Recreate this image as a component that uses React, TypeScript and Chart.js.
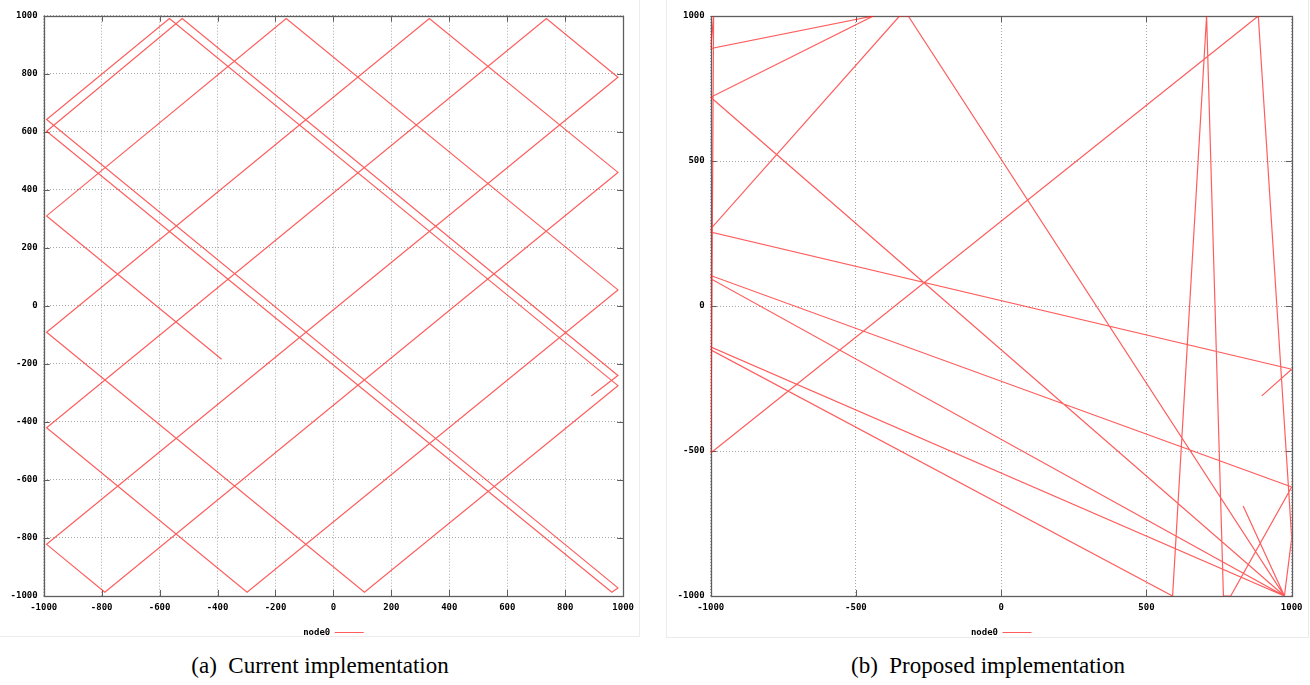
import React, { useEffect, useRef } from 'react';
import { Chart, registerables } from 'chart.js';

Chart.register(...registerables);

// ---- data ----
const seriesLabel = 'node0';

// (a) current implementation: trajectory of node0
const leftX = [-386, -990, -163, 982, -298, -990, 735, 982, -990, -789, 982, 331, -990, 107, 982, -566, -990, 982, 961, -990, -522, 982, 890];
const leftY = [-184, 310, 990, 55, -987, -420, 990, 788, -822, -987, 460, 990, -91, -987, -275, 990, 642, -972, -987, 602, 990, -240, -311];

// (b) proposed implementation: trajectory of node0
const rightX = [833, 975, -1000, -1000, 590, 707, 765, 790, 1000, -1000, -1000, 975, 1000, 885, -1000, -998, -990, -1000, -440, -1000, 975, -320, -350, -1000, -1000, 1000, 897];
const rightY = [-690, -1000, -141, -151, -1000, 1000, -1000, -1000, -624, 105, 94, -1000, -800, 1000, -507, -322, 1000, 888, 1000, 720, -1000, 1000, 1000, 266, 255, -218, -310];

const leftTicks = [-1000, -800, -600, -400, -200, 0, 200, 400, 600, 800, 1000];
const rightTicks = [-1000, -500, 0, 500, 1000];

const captions = ['(a)\u00a0 Current implementation', '(b)\u00a0 Proposed implementation'];

const TICK_FONT = { family: '"DejaVu Sans Mono", monospace', size: 9, weight: 'bold' as const };

const framePlugin = {
  id: 'gnuFrame',
  beforeDatasetsDraw(chart: any) {
    const { ctx, chartArea: a, scales } = chart;
    const r = (v: number) => Math.round(v) + 0.5;
    ctx.save();
    ctx.strokeStyle = '#5e5e5e';
    ctx.lineWidth = 1;
    ctx.beginPath();
    const L = 6;
    for (const t of scales.x.ticks) {
      const px = r(scales.x.getPixelForValue(t.value));
      ctx.moveTo(px, a.bottom);
      ctx.lineTo(px, a.bottom - L);
      ctx.moveTo(px, a.top);
      ctx.lineTo(px, a.top + L);
    }
    for (const t of scales.y.ticks) {
      const py = r(scales.y.getPixelForValue(t.value));
      ctx.moveTo(a.left, py);
      ctx.lineTo(a.left + L, py);
      ctx.moveTo(a.right, py);
      ctx.lineTo(a.right - L, py);
    }
    ctx.stroke();
    ctx.lineWidth = 1.3;
    ctx.strokeRect(r(a.left), r(a.top), Math.round(a.right - a.left), Math.round(a.bottom - a.top));
    ctx.restore();
  },
};

type PanelProps = {
  xs: number[];
  ys: number[];
  ticks: number[];
  width: number;
  height: number;
  yAxisWidth: number;
  padRight: number;
  padTop: number;
};

function Panel({ xs, ys, ticks, width, height, yAxisWidth, padRight, padTop }: PanelProps) {
  const ref = useRef<HTMLCanvasElement | null>(null);
  useEffect(() => {
    if (!ref.current) return;
    const data = xs.map((x, i) => ({ x, y: ys[i] }));
    const setTicks = (s: any) => {
      s.ticks = ticks.map((v) => ({ value: v }));
    };
    const gridOpts = {
      color: '#a8a8a8',
      lineWidth: 1,
      drawTicks: false,
      borderDash: [1, 2],
    };
    const chart = new Chart(ref.current, {
      type: 'scatter',
      data: {
        datasets: [
          {
            label: seriesLabel,
            data,
            showLine: true,
            borderColor: 'rgba(255,30,30,0.72)',
            backgroundColor: 'rgba(255,30,30,0.72)',
            borderWidth: 1.2,
            pointRadius: 0,
            pointHoverRadius: 0,
            tension: 0,
          },
        ],
      },
      options: {
        animation: false,
        responsive: false,
        devicePixelRatio: 1,
        events: [],
        layout: { padding: { left: 0, right: padRight, top: padTop, bottom: 1 } },
        scales: {
          x: {
            type: 'linear',
            min: -1000,
            max: 1000,
            afterBuildTicks: setTicks,
            afterFit: (s: any) => {
              s.height = 28;
            },
            grid: gridOpts as any,
            border: { display: false, dash: [1, 2] } as any,
            ticks: {
              color: '#000',
              font: TICK_FONT,
              padding: 6,
              maxRotation: 0,
              autoSkip: false,
              callback: (v: any) => String(v),
            },
          },
          y: {
            type: 'linear',
            min: -1000,
            max: 1000,
            afterBuildTicks: setTicks,
            afterFit: (s: any) => {
              s.width = yAxisWidth;
            },
            grid: gridOpts as any,
            border: { display: false, dash: [1, 2] } as any,
            ticks: {
              color: '#000',
              font: TICK_FONT,
              padding: 6,
              autoSkip: false,
              callback: (v: any) => String(v),
            },
          },
        },
        plugins: {
          tooltip: { enabled: false },
          legend: {
            display: true,
            position: 'bottom',
            fullSize: false,
            align: 'center',
            rtl: true,
            textDirection: 'ltr',
            labels: {
              color: '#000',
              font: TICK_FONT,
              padding: 4,
              usePointStyle: true,
              pointStyle: 'line',
              pointStyleWidth: 29,
            },
          },
        },
      },
      plugins: [framePlugin],
    } as any);
    return () => chart.destroy();
  }, []);
  return <canvas ref={ref} width={width} height={height} style={{ display: 'block', width, height }} />;
}

export default function App() {
  const captionStyle: React.CSSProperties = {
    position: 'absolute',
    top: 651,
    fontFamily: '"Liberation Serif", "Times New Roman", serif',
    fontSize: 23,
    lineHeight: '30px',
    color: '#000',
    textAlign: 'center',
    whiteSpace: 'pre',
  };
  return (
    <div style={{ position: 'absolute', left: 0, top: 0, width: 1310, height: 685, background: '#fff', overflow: 'hidden' }}>
      <div style={{ position: 'absolute', left: -1, top: -1, width: 641, height: 638, border: '1px solid #ececec', boxSizing: 'border-box' }} />
      <div style={{ position: 'absolute', left: 666, top: -1, width: 643, height: 639, border: '1px solid #ececec', boxSizing: 'border-box' }} />
      <div style={{ position: 'absolute', left: 0, top: 0 }}>
        <Panel xs={leftX} ys={leftY} ticks={leftTicks} width={640} height={648} yAxisWidth={43.7} padRight={14.7} padTop={15.7} />
      </div>
      <div style={{ position: 'absolute', left: 666, top: 0 }}>
        <Panel xs={rightX} ys={rightY} ticks={rightTicks} width={644} height={648} yAxisWidth={44.7} padRight={18.3} padTop={16} />
      </div>
      <div style={{ ...captionStyle, left: 0, width: 640 }}>{captions[0]}</div>
      <div style={{ ...captionStyle, left: 666, width: 644 }}>{captions[1]}</div>
    </div>
  );
}
